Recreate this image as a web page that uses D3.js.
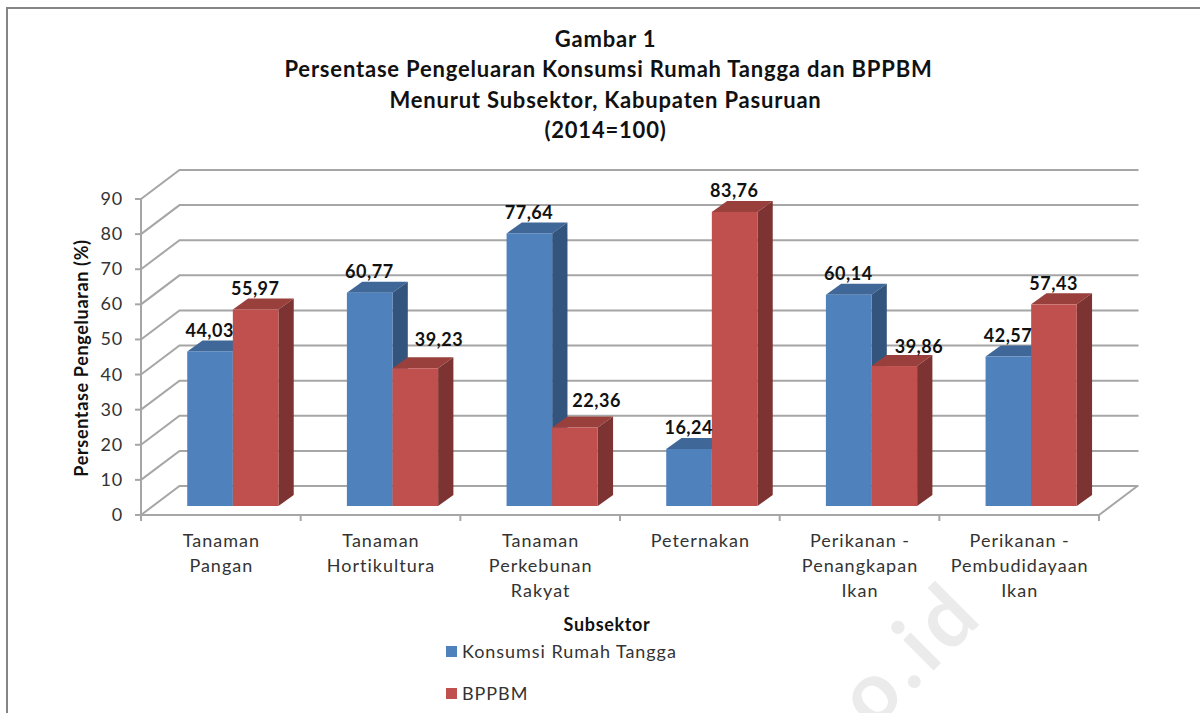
<!DOCTYPE html>
<html>
<head>
<meta charset="utf-8">
<title>Gambar 1</title>
<style>
  html, body { margin: 0; padding: 0; background: #fff; overflow: hidden; }
  svg { display: block; }
  text { font-family: Lato, "Open Sans", sans-serif; }
  .title { font-size: 22px; font-weight: 700; fill: #111; text-anchor: middle; letter-spacing: 0.8px; }
  .tick-y { font-size: 18px; fill: #333; text-anchor: end; letter-spacing: 0.8px; }
  .cat { font-size: 18px; fill: #333; text-anchor: middle; letter-spacing: 1px; }
  .val { font-size: 18px; font-weight: 700; fill: #111; text-anchor: middle; letter-spacing: 0.5px; }
  .axis-title { font-size: 18px; font-weight: 700; fill: #111; text-anchor: middle; letter-spacing: 0.65px; }
  .legend { font-size: 18px; fill: #333; letter-spacing: 0.95px; }
  .grid { stroke: #a6a6a6; stroke-width: 2; fill: none; }
</style>
</head>
<body>
<svg width="1200" height="713"></svg>
<script src="https://cdn.jsdelivr.net/npm/d3@7"></script>
<script>
var titleLines = ["Gambar 1", "Persentase Pengeluaran Konsumsi Rumah Tangga dan BPPBM", "Menurut Subsektor, Kabupaten Pasuruan", "(2014=100)"];
var categories = ["Tanaman Pangan", "Tanaman Hortikultura", "Tanaman Perkebunan Rakyat", "Peternakan", "Perikanan - Penangkapan Ikan", "Perikanan - Pembudidayaan Ikan"];
var categoryLines = [["Tanaman", "Pangan"], ["Tanaman", "Hortikultura"], ["Tanaman", "Perkebunan", "Rakyat"], ["Peternakan"], ["Perikanan -", "Penangkapan", "Ikan"], ["Perikanan -", "Pembudidayaan", "Ikan"]];
var konsumsi = [44.03, 60.77, 77.64, 16.24, 60.14, 42.57];
var bppbm = [55.97, 39.23, 22.36, 83.76, 39.86, 57.43];
var yTicks = [0, 10, 20, 30, 40, 50, 60, 70, 80, 90];
var seriesNames = ["Konsumsi Rumah Tangga", "BPPBM"];
var seriesColors = [
  { front: "#4f81bd", top: "#3f6797", side: "#33547c" },
  { front: "#c0504d", top: "#99403d", side: "#7d3331" }
];

var svg = d3.select("svg");

// outer frame, cropped by the screenshot on the right and bottom
svg.append("path").attr("d", "M7 714V8H1201").attr("fill", "none").attr("stroke", "#858585").attr("stroke-width", 2);

// faint watermark, only its tail end is in the crop
svg.append("text")
    .attr("transform", "translate(987,617) rotate(-45)")
    .attr("font-size", 84).attr("font-weight", 700).attr("fill", "#ebebeb")
    .attr("letter-spacing", 6).attr("text-anchor", "end")
    .text("o.id");

var front = { left: 141, right: 1099, bottom: 515, top: 199 };
var depth = { x: 38.5, y: -29 };

var y = d3.scaleLinear().domain([0, 90]).range([front.bottom, front.top]);
var x = d3.scaleBand().domain(categories).range([front.left, front.right]);

// back wall gridlines + side wall
var grid = svg.append("g");
yTicks.forEach(function (t) {
  grid.append("path").attr("class", "grid")
      .attr("d", "M" + front.left + " " + y(t) + "L" + (front.left + depth.x) + " " + (y(t) + depth.y) + "H" + (front.right + depth.x + 1));
});
grid.append("path").attr("class", "grid")
    .attr("d", "M" + front.left + " " + y(90) + "V" + y(0) + "H" + front.right + "L" + (front.right + depth.x) + " " + (y(0) + depth.y));

// tick marks
yTicks.forEach(function (t) {
  grid.append("line").attr("class", "grid").attr("x1", front.left - 6).attr("x2", front.left).attr("y1", y(t)).attr("y2", y(t));
});
d3.range(categories.length + 1).forEach(function (i) {
  var px = front.left + i * x.bandwidth();
  grid.append("line").attr("class", "grid").attr("x1", px).attr("x2", px).attr("y1", front.bottom).attr("y2", front.bottom + 6);
});

svg.selectAll(".tick-y").data(yTicks).enter().append("text")
    .attr("class", "tick-y").attr("x", 123).attr("y", function (d) { return y(d) + 6; })
    .text(function (d) { return d; });

// bars
var barW = 45.6, barDepth = { x: 15.3, y: -11 }, floorY = 9, shift = 12;
function drawBar(g, cat, series, value, color) {
  var x0 = x(cat) + x.bandwidth() / 2 + shift + (series - 1) * barW;
  var yTop = y(value) - floorY, yBase = y(0) - floorY;
  g.append("polygon").attr("fill", color.top)
      .attr("points", [[x0, yTop], [x0 + barDepth.x, yTop + barDepth.y], [x0 + barW + barDepth.x, yTop + barDepth.y], [x0 + barW, yTop]].join(" "));
  g.append("polygon").attr("fill", color.side)
      .attr("points", [[x0 + barW, yTop], [x0 + barW + barDepth.x, yTop + barDepth.y], [x0 + barW + barDepth.x, yBase + barDepth.y], [x0 + barW, yBase]].join(" "));
  g.append("rect").attr("fill", color.front).attr("x", x0).attr("y", yTop).attr("width", barW).attr("height", yBase - yTop);
  return { x: x0 + barW / 2 + barDepth.x / 2 - 8, y: yTop + barDepth.y - 3.5 };
}
// red labels next to a taller blue bar were dragged clear of it in the original
var dragged = { 1: [24, -7.5], 2: [22, -6], 4: [25, 1.5] };
var bars = svg.append("g"), labels = [];
categories.forEach(function (c, i) {
  labels.push([drawBar(bars, c, 0, konsumsi[i], seriesColors[0]), konsumsi[i]]);
  var p = drawBar(bars, c, 1, bppbm[i], seriesColors[1]);
  if (dragged[i]) { p.x += dragged[i][0]; p.y += dragged[i][1]; }
  labels.push([p, bppbm[i]]);
});
svg.selectAll(".val").data(labels).enter().append("text")
    .attr("class", "val").attr("x", function (d) { return d[0].x; }).attr("y", function (d) { return d[0].y; })
    .text(function (d) { return d[1].toFixed(2).replace(".", ","); });

// category labels
categories.forEach(function (c, i) {
  categoryLines[i].forEach(function (line, j) {
    svg.append("text").attr("class", "cat")
        .attr("x", x(c) + x.bandwidth() / 2 + 0.5).attr("y", 547 + j * 25).text(line);
  });
});

// titles
titleLines.forEach(function (line, i) {
  svg.append("text").attr("class", "title").attr("x", i == 1 ? 608.5 : 605.5).attr("y", 47 + i * 30.3).text(line);
});
svg.append("text").attr("class", "axis-title").attr("transform", "translate(88,358) rotate(-90)").text("Persentase Pengeluaran (%)");
svg.append("text").attr("class", "axis-title").attr("x", 607).attr("y", 631).text("Subsektor");

// legend
seriesNames.forEach(function (name, i) {
  var ly = 651 + i * 42;
  svg.append("rect").attr("x", 446).attr("y", ly - 5).attr("width", 11).attr("height", 11).attr("fill", seriesColors[i].front);
  svg.append("text").attr("class", "legend").attr("x", 462).attr("y", ly + 7).text(name);
});
</script>
</body>
</html>
